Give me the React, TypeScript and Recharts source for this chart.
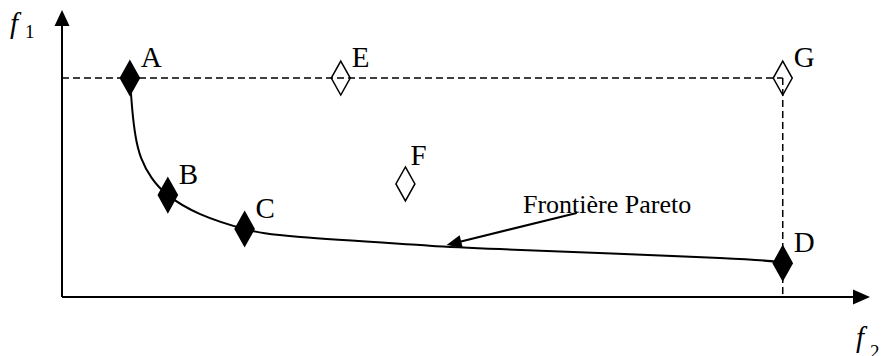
import { ComposedChart, XAxis, YAxis, Line, Scatter, ReferenceLine } from 'recharts';

// Frontière de Pareto (f2 en abscisse, f1 en ordonnée, unités arbitraires 0-100)
const frontierF2 = [8.4, 8.7, 9.1, 9.8, 11.1, 13.1, 17.1, 22.6, 29.5, 44.3, 54.2, 81.4, 89.2];
const frontierF1 = [76.3, 65.2, 56.1, 48.4, 41.5, 35.5, 28.9, 23.7, 20.9, 18.1, 16.7, 13.6, 11.8];

// Solutions
const pointNames = ['A', 'B', 'C', 'D', 'E', 'F', 'G'];
const pointF2 = [8.4, 13.1, 22.6, 89.2, 34.5, 42.5, 89.2];
const pointF1 = [76.3, 35.5, 23.7, 11.8, 76.3, 39.4, 76.3];
const pointDominated = [false, false, false, false, true, true, true];

// Flèche d'annotation : du texte vers la courbe
const annotationF2 = [63.7, 47.6];
const annotationF1 = [29.3, 18.1];

const frontier = frontierF2.map((x, i) => ({ x, y: frontierF1[i] }));
const points = pointNames.map((name, i) => ({
  name,
  x: pointF2[i],
  y: pointF1[i],
  dominated: pointDominated[i],
}));

const FONT = '"Liberation Serif", "Times New Roman", serif';

const labelNudge: Record<string, { dx: number; dy: number }> = {
  F: { dx: 5, dy: -19 },
};

// ligne + pointe de flèche pleine au bout (x2, y2)
const arrowShape = (len: number, half: number) => (p: any) => {
  const { x1, y1, x2, y2 } = p;
  const dx = x2 - x1;
  const dy = y2 - y1;
  const d = Math.hypot(dx, dy) || 1;
  const ux = dx / d;
  const uy = dy / d;
  const bx = x2 - ux * len;
  const by = y2 - uy * len;
  const px = -uy * half;
  const py = ux * half;
  return (
    <g>
      <line x1={x1} y1={y1} x2={x2 - ux * len * 0.5} y2={y2 - uy * len * 0.5} stroke="#000" strokeWidth={2} />
      <polygon points={`${x2},${y2} ${bx + px},${by + py} ${bx - px},${by - py}`} fill="#000" />
    </g>
  );
};

const Diamond = (props: any) => {
  const { cx, cy, payload } = props;
  const nudge = labelNudge[payload.name] ?? { dx: 11, dy: -11 };
  return (
    <g>
      <polygon
        points={`${cx},${cy - 17} ${cx + 9.5},${cy} ${cx},${cy + 17} ${cx - 9.5},${cy}`}
        fill={payload.dominated ? 'none' : '#000'}
        stroke="#000"
        strokeWidth={1.5}
      />
      <text x={cx + nudge.dx} y={cy + nudge.dy} fontSize={29} fontFamily={FONT} fill="#000">
        {payload.name}
      </text>
    </g>
  );
};

const G = points[6];

export default function App() {
  return (
    <div style={{ position: 'absolute', left: 0, top: 0, width: 883, height: 356, background: '#fff' }}>
      <ComposedChart
        width={883}
        height={356}
        data={frontier}
        margin={{ top: 10, right: 13, bottom: 59, left: 62 }}
      >
        <XAxis type="number" dataKey="x" domain={[0, 100]} hide />
        <YAxis type="number" dataKey="y" domain={[0, 100]} hide />

        {/* pointillés vers G */}
        <ReferenceLine
          segment={[{ x: 0, y: G.y }, { x: G.x, y: G.y }]}
          stroke="#000"
          strokeWidth={1.5}
          strokeDasharray="7 4"
        />
        <ReferenceLine
          segment={[{ x: G.x, y: G.y }, { x: G.x, y: 0 }]}
          stroke="#000"
          strokeWidth={1.5}
          strokeDasharray="7 4"
        />

        {/* axes */}
        <ReferenceLine segment={[{ x: 0, y: 0 }, { x: 100, y: 0 }]} shape={arrowShape(17, 7.5)} />
        <ReferenceLine segment={[{ x: 0, y: 0 }, { x: 0, y: 100 }]} shape={arrowShape(16, 7.5)} />

        {/* annotation */}
        <ReferenceLine
          segment={[
            { x: annotationF2[0], y: annotationF1[0] },
            { x: annotationF2[1], y: annotationF1[1] },
          ]}
          shape={arrowShape(15, 6.5)}
        />

        <Line
          dataKey="y"
          type="natural"
          stroke="#000"
          strokeWidth={2}
          dot={false}
          activeDot={false}
          isAnimationActive={false}
        />
        <Scatter data={points} shape={Diamond} isAnimationActive={false} />

        <text x={523} y={213} fontSize={26} fontFamily={FONT} fill="#000">
          Frontière Pareto
        </text>
        <text x={10} y={33} fontSize={29} fontStyle="italic" fontFamily={FONT} fill="#000">f</text>
        <text x={25} y={38} fontSize={19} fontFamily={FONT} fill="#000">1</text>
        <text x={856} y={347} fontSize={29} fontStyle="italic" fontFamily={FONT} fill="#000">f</text>
        <text x={870} y={358} fontSize={19} fontFamily={FONT} fill="#000">2</text>
      </ComposedChart>
    </div>
  );
}
